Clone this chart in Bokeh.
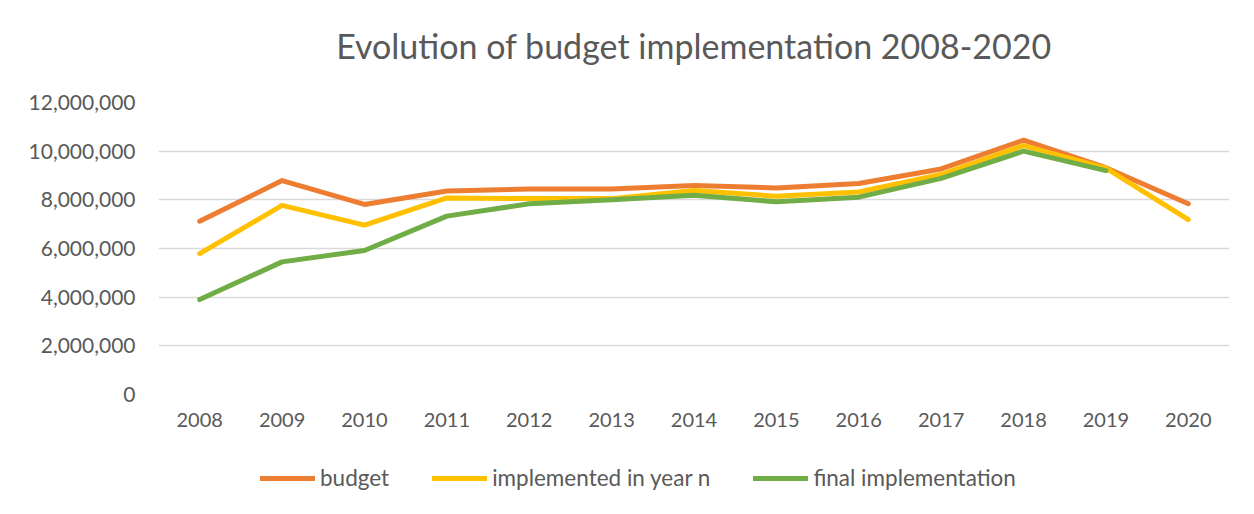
from bokeh.plotting import figure
from bokeh.layouts import column
from bokeh.models import (Range1d, FactorRange, FixedTicker, NumeralTickFormatter,
                          Legend, LegendItem)
from bokeh.embed import file_html
from bokeh.resources import INLINE

years = ["2008", "2009", "2010", "2011", "2012", "2013", "2014",
         "2015", "2016", "2017", "2018", "2019", "2020"]
budget = [7.12e6, 8.79e6, 7.81e6, 8.36e6, 8.45e6, 8.45e6, 8.59e6,
          8.49e6, 8.67e6, 9.27e6, 10.45e6, 9.32e6, 7.84e6]
implemented = [5.79e6, 7.77e6, 6.96e6, 8.08e6, 8.05e6, 8.05e6, 8.38e6,
               8.15e6, 8.32e6, 9.04e6, 10.23e6, 9.30e6, 7.19e6]
final_years = years[:12]
final = [3.90e6, 5.45e6, 5.92e6, 7.33e6, 7.84e6, 8.00e6, 8.19e6,
         7.92e6, 8.11e6, 8.88e6, 10.00e6, 9.20e6]
y_ticks = [0, 2e6, 4e6, 6e6, 8e6, 10e6, 12e6]

series = [("budget", years, budget, "#ED7D31"),
          ("implemented in year n", years, implemented, "#FFC000"),
          ("final implementation", final_years, final, "#70AD47")]

FONT = "Lato"
GREY = "#595959"

p = figure(width=1254, height=465, x_range=FactorRange(*years, range_padding=0),
           y_range=Range1d(0, 12e6), output_backend="svg", toolbar_location=None,
           title="Evolution of budget implementation 2008-2020",
           min_border_left=158, min_border_right=25, min_border_top=116,
           min_border_bottom=56)
p.styles = {"margin-top": "-15px"}
p.outline_line_color = None
p.background_fill_color = "white"
p.border_fill_color = "white"

p.title.align = "center"
p.title.text_font = FONT
p.title.text_font_style = "normal"
p.title.text_font_size = "34px"
p.title.text_color = GREY
p.title.standoff = 74

p.xgrid.grid_line_color = None
p.ygrid.grid_line_color = "#d9d9d9"
p.ygrid.grid_line_width = 1.5

p.yaxis.ticker = FixedTicker(ticks=y_ticks)
p.yaxis.formatter = NumeralTickFormatter(format="0,0")
for ax in (p.xaxis[0], p.yaxis[0]):
    ax.axis_line_color = None
    ax.major_tick_line_color = None
    ax.minor_tick_line_color = None
    ax.major_label_text_font = FONT
    ax.major_label_text_color = GREY
p.yaxis.major_label_text_font_size = "21px"
p.yaxis.major_label_standoff = 17
p.xaxis.major_label_text_font_size = "20px"
p.xaxis.major_label_standoff = 12

for name, xs, ys, color in series:
    p.line(xs, ys, line_color=color, line_width=5, line_cap="round", line_join="round")

# legend strip below the chart (same series, drawn out of view)
q = figure(width=1254, height=64, x_range=FactorRange(*years, range_padding=0),
           y_range=Range1d(-2e6, -1e6), output_backend="svg", toolbar_location=None,
           x_axis_type=None, y_axis_type=None,
           min_border_left=158, min_border_right=25, min_border_top=0, min_border_bottom=8)
q.outline_line_color = None
q.grid.visible = False
items = []
for name, xs, ys, color in series:
    r = q.line(xs, ys, line_color=color, line_width=5, line_cap="round", line_join="round")
    items.append(LegendItem(label=name, renderers=[r]))
legend = Legend(items=items, orientation="horizontal", location=(102, 15),
                label_text_font=FONT, label_text_font_size="22.5px", label_text_color=GREY,
                glyph_width=55, label_standoff=5, spacing=43,
                border_line_color=None, background_fill_alpha=0,
                margin=0, padding=6)
q.add_layout(legend, "center")

layout = column(p, q, spacing=0)
layout.styles = {"outline": "1.5px solid #d9d9d9"}

open("out.html", "w").write(file_html(layout, INLINE))
